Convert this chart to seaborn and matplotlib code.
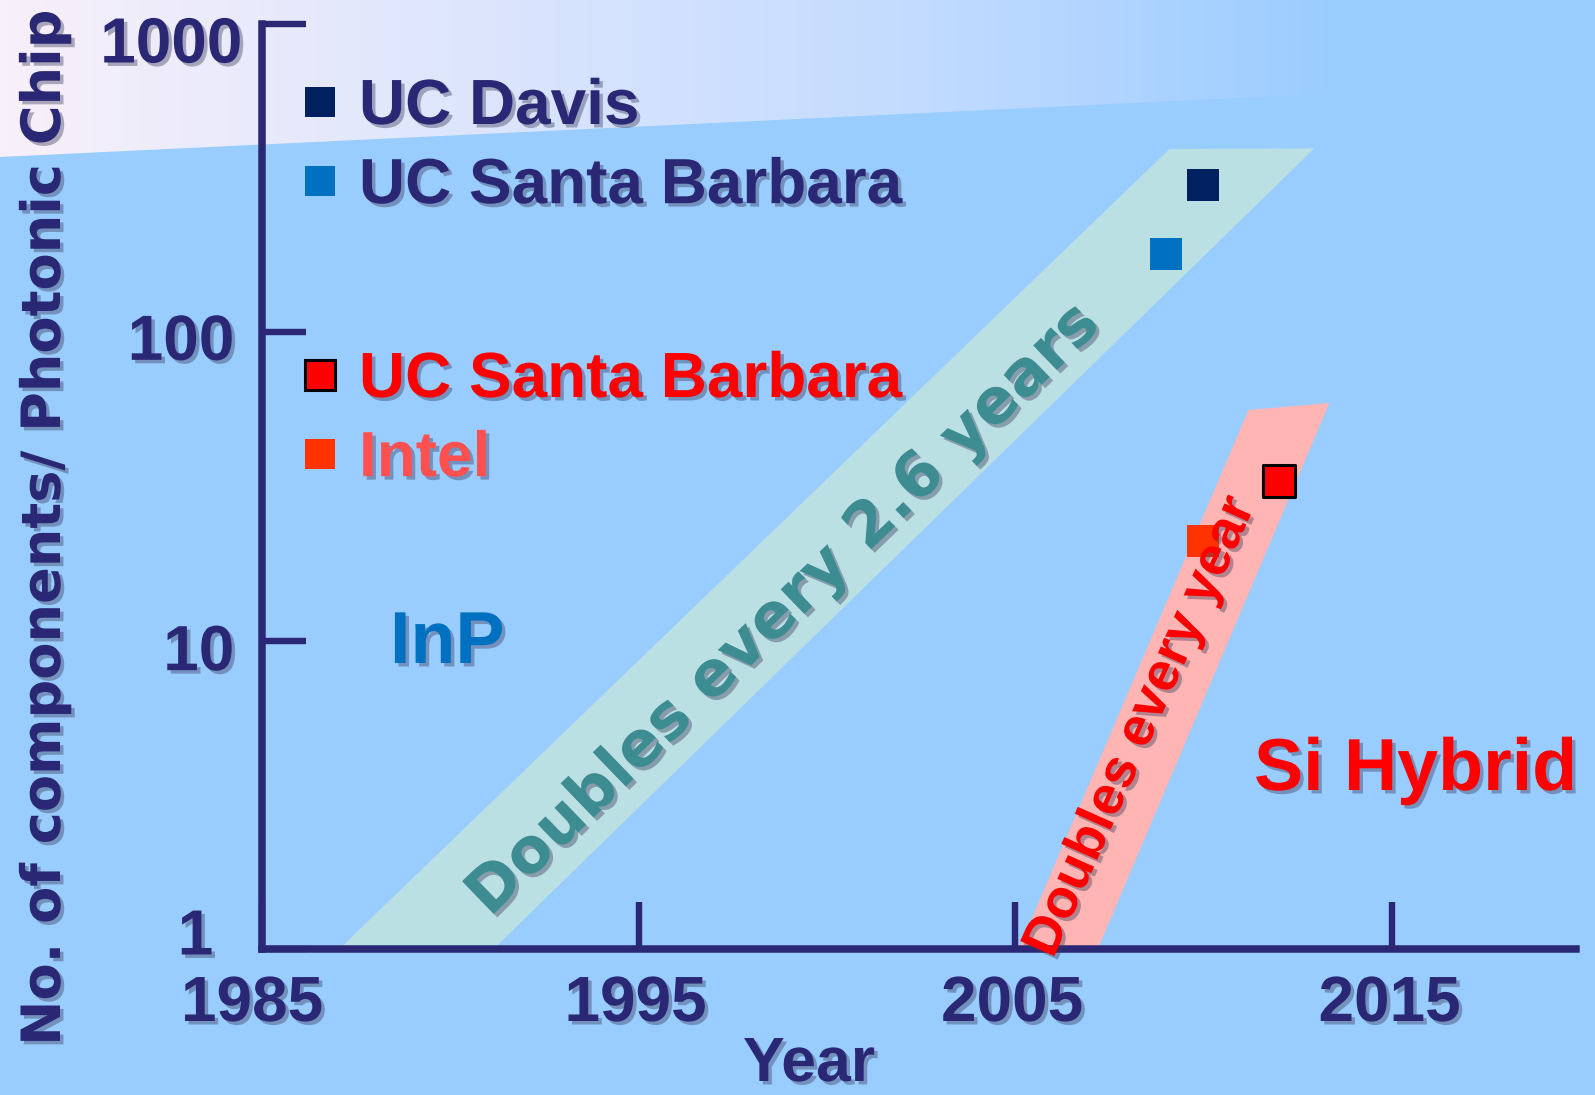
import numpy as np
import pandas as pd
import matplotlib
matplotlib.use("Agg")
import matplotlib.pyplot as plt
import matplotlib.patheffects as pe
from matplotlib.transforms import ScaledTranslation
from matplotlib.lines import Line2D
from matplotlib.patches import Polygon
from matplotlib.colors import to_rgb
import seaborn as sns

# ---------------- data ----------------
groups = ["UC Davis", "UC Santa Barbara", "UC Santa Barbara", "Intel"]
platform = ["InP", "InP", "Si Hybrid", "Si Hybrid"]
years = [2010, 2009, 2012, 2010]
components = [300, 180, 33, 21]

year_ticks = [1985, 1995, 2005, 2015]
year_tick_labels = ["1985", "1995", "2005", "2015"]
count_ticks = [1, 10, 100, 1000]
count_tick_labels = ["1", "10", "100", "1000"]

# trend bands (doubling-time guides), vertices in data space
inp_band_years = [1987.05, 1991.15, 2012.95, 2009.1]
inp_band_counts = [1, 1, 395, 393]
si_band_years = [2005.1, 2007.2, 2013.35, 2011.2]
si_band_counts = [1, 1, 59, 56]

# ---------------- styles ----------------
W, H = 1595, 1095
AXC = "#2A2874"
BG = "#99CCFF"
marker_colors = ["#002060", "#0070C0", "#FF0000", "#FF3300"]
edge_colors = ["none", "none", "black", "none"]
edge_widths = [0, 0, 2.2, 0]
label_colors = [AXC, AXC, "#FF0000", "#FF5050"]

sns.set_style("ticks")
plt.rcParams["font.family"] = ["Liberation Sans", "DejaVu Sans"]
plt.rcParams["font.weight"] = "bold"

shadow = [pe.withSimplePatchShadow(offset=(2.5, -2.5), shadow_rgbFace="#3a3a5a", alpha=0.4)]

def fx(px):
    return px / W

def fy(py):
    return 1 - py / H

fig = plt.figure(figsize=(W / 100, H / 100), dpi=100, facecolor=BG)

# background gradient band at the top
bg = fig.add_axes([0, 0, 1, 1])
bg.set_zorder(-5)
bg.set_xlim(0, W)
bg.set_ylim(H, 0)
bg.axis("off")
stops_x = [0, 900, 1350, W]
stops_c = ["#F8F0FA", "#C4DCFF", "#99CCFF", "#99CCFF"]
xs = np.arange(W)
rgb = np.array([to_rgb(c) for c in stops_c])
grad = np.stack([np.interp(xs, stops_x, rgb[:, k]) for k in range(3)], axis=-1)[None, :, :]
im = bg.imshow(grad, extent=(0, W, H, 0), aspect="auto")
clip = Polygon([(0, 0), (W, 0), (W, 81), (0, 157)], closed=True, transform=bg.transData)
im.set_clip_path(clip)

# main axes
ax = fig.add_axes([fx(262), fy(949), (1576 - 262) / W, (949 - 24) / H])
ax.set_facecolor("none")
ax.set_yscale("log")
ax.set_xlim(1985, 2019.9)
ax.set_ylim(1, 1000)

# bands
ax.fill(inp_band_years, inp_band_counts, color="#BBE0E3", lw=0, zorder=1)
ax.fill(si_band_years, si_band_counts, color="#FFB5B3", lw=0, zorder=1)

df = pd.DataFrame({"group": groups, "platform": platform, "year": years, "components": components})
for i, row in df.iterrows():
    sns.scatterplot(x=[row["year"]], y=[row["components"]], ax=ax, marker="s", s=530,
                    color=marker_colors[i], edgecolor=edge_colors[i], linewidth=edge_widths[i],
                    zorder=4, legend=False)

ax.set_xticks(year_ticks, year_tick_labels)
ax.set_yticks(count_ticks, count_tick_labels)
ax.minorticks_off()
for s in ["top", "right"]:
    ax.spines[s].set_visible(False)
for s in ["left", "bottom"]:
    ax.spines[s].set_linewidth(5.4)
    ax.spines[s].set_color(AXC)
    ax.spines[s].set_zorder(5)
ax.tick_params(axis="x", direction="in", length=34, width=4.6, color=AXC, pad=18,
               labelsize=46, labelcolor=AXC)
ax.tick_params(axis="y", direction="in", length=32, width=4.6, color=AXC, pad=20,
               labelsize=46, labelcolor=AXC)
ax.set_xlabel("")
ax.set_ylabel("")

xoff = [(-10, 0), (-3, 0), (-3, 0), (-2, 0)]
yoff = [(-21, -18), (0, 6), (0, 4), (8, 15)]
for lab, (dx, dy) in zip(ax.get_xticklabels(), xoff):
    lab.set_transform(lab.get_transform() + ScaledTranslation(dx / 100, -dy / 100, fig.dpi_scale_trans))
    lab.set_fontweight("bold")
    lab.set_path_effects(shadow)
for lab, (dx, dy) in zip(ax.get_yticklabels(), yoff):
    lab.set_transform(lab.get_transform() + ScaledTranslation(dx / 100, -dy / 100, fig.dpi_scale_trans))
    lab.set_fontweight("bold")
    lab.set_path_effects(shadow)

# axis titles
fig.text(fx(809), fy(1081), "Year", ha="center", va="baseline", fontsize=45,
         fontweight="bold", color=AXC, path_effects=shadow)
fig.text(fx(45), fy(528), "No. of components/ Photonic Chip", rotation=90, ha="center",
         va="center", fontsize=39, fontweight="bold", color=AXC, family="DejaVu Sans",
         path_effects=shadow)

# legends
handles = [Line2D([], [], marker="s", ls="none", markersize=22, markerfacecolor=marker_colors[i],
                  markeredgecolor=(edge_colors[i] if edge_colors[i] != "none" else marker_colors[i]),
                  markeredgewidth=(edge_widths[i] if edge_widths[i] else 0)) for i in range(4)]
leg_kw = dict(frameon=False, prop=dict(size=46, weight="bold"), handlelength=0.5,
              handletextpad=0.36, labelspacing=0.3, borderpad=0, borderaxespad=0,
              loc="upper left", bbox_transform=fig.transFigure)
leg1 = ax.legend(handles[:2], groups[:2], bbox_to_anchor=(fx(304), fy(77)),
                 labelcolor=label_colors[:2], **leg_kw)
ax.add_artist(leg1)
leg2 = ax.legend(handles[2:], groups[2:], bbox_to_anchor=(fx(304), fy(350)),
                 labelcolor=label_colors[2:], **leg_kw)
for lg in (leg1, leg2):
    for t in lg.get_texts():
        t.set_path_effects(shadow)

# annotations
fig.text(fx(390), fy(663), "InP", ha="left", va="baseline", fontsize=53, fontweight="bold",
         color="#0070C0", path_effects=shadow)
fig.text(fx(1254), fy(790), "Si Hybrid", ha="left", va="baseline", fontsize=53, fontweight="bold",
         color="#FF0000", path_effects=shadow)
fig.text(fx(784), fy(610), "Doubles every 2.6 years", rotation=44, rotation_mode="anchor",
         ha="center", va="center", fontsize=45, fontweight="bold", color="#3C8C92",
         family="DejaVu Sans", path_effects=shadow)
fig.text(fx(1141), fy(727), "Doubles every year", rotation=66, rotation_mode="anchor",
         ha="center", va="center", fontsize=39, fontweight="bold", color="#FF0000",
         path_effects=shadow)

fig.savefig("out.png", dpi=100, facecolor=BG)
